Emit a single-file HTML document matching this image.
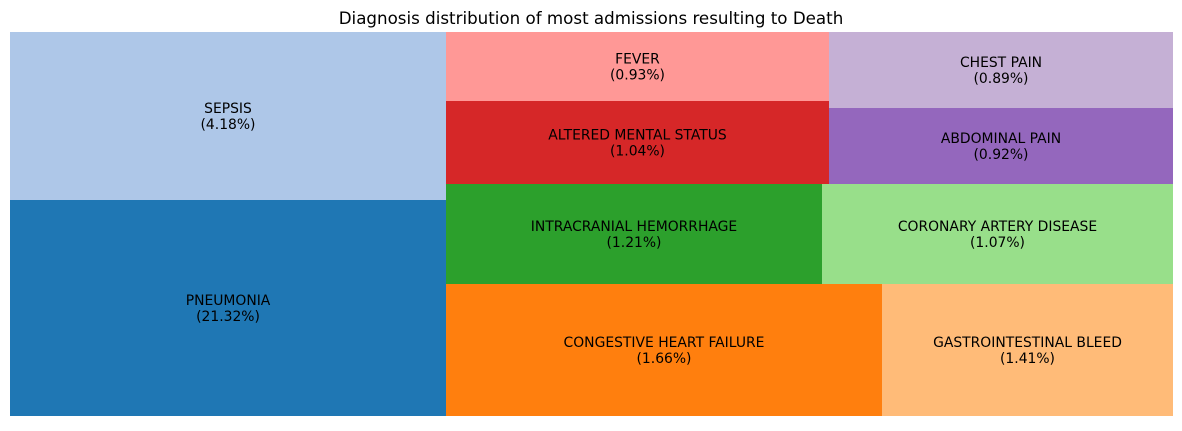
<!DOCTYPE html>
<html><head><meta charset="utf-8"><style>
body{margin:0;background:#fff;width:1182px;height:427px;overflow:hidden;font-family:"DejaVu Sans","Liberation Sans",sans-serif}
</style></head><body>
<svg id="chart" width="1182" height="427">
<text x="591" y="24" text-anchor="middle" font-size="16.7" fill="#000">Diagnosis distribution of most admissions resulting to Death</text>
<g id="cells"></g>
</svg>
<script>
const labels = ["PNEUMONIA","SEPSIS","CONGESTIVE HEART FAILURE","GASTROINTESTINAL BLEED","INTRACRANIAL HEMORRHAGE","CORONARY ARTERY DISEASE","ALTERED MENTAL STATUS","FEVER","ABDOMINAL PAIN","CHEST PAIN"];
const percents = ["21.32%","4.18%","1.66%","1.41%","1.21%","1.07%","1.04%","0.93%","0.92%","0.89%"];
const sizes = [94176,73248,57552,38412,37600,35100,31789,26427,26144,26144];
const colors = ["#1f77b4","#aec7e8","#ff7f0e","#ffbb78","#2ca02c","#98df8a","#d62728","#ff9896","#9467bd","#c5b0d5"];
const groups = [[[0,1],'col'],[[2,3],'row'],[[4,5],'row'],[[6,7],'col'],[[8,9],'col']];
const X0=10, Y0=32, W=1163, H=384;
const total = sizes.reduce((a,b)=>a+b,0);
const scale = (W*H)/total;
let rx=X0, ry=Y0, rw=W, rh=H;
const g=document.getElementById('cells');
const NS="http://www.w3.org/2000/svg";
const rects=[];
groups.forEach(([idx,orient],gi)=>{
  const area = idx.reduce((s,i)=>s+sizes[i]*scale,0);
  if(orient==='col'){
    const w = gi===groups.length-1 ? rw : area/rh;
    let yb = ry+rh;
    idx.forEach(i=>{const h=sizes[i]*scale/w; rects[i]=[rx,yb-h,w,h]; yb-=h;});
    rx+=w; rw-=w;
  } else {
    const h = area/rw;
    let xl = rx;
    idx.forEach(i=>{const w=sizes[i]*scale/h; rects[i]=[xl,ry+rh-h,w,h]; xl+=w;});
    rh-=h;
  }
});
rects.forEach((r,i)=>{
  const rect=document.createElementNS(NS,'rect');
  rect.setAttribute('x',r[0]);rect.setAttribute('y',r[1]);
  rect.setAttribute('width',r[2]);rect.setAttribute('height',r[3]);
  rect.setAttribute('fill',colors[i]);
  
  
  g.appendChild(rect);
  const cx=r[0]+r[2]/2, cy=r[1]+r[3]/2;
  const t=document.createElementNS(NS,'text');
  t.setAttribute('x',cx);t.setAttribute('y',cy-3);
  t.setAttribute('text-anchor','middle');t.setAttribute('font-size','13.9');
  t.textContent=labels[i];
  
  
  g.appendChild(t);
  const t2=document.createElementNS(NS,'text');
  t2.setAttribute('x',cx);t2.setAttribute('y',cy+13);
  t2.setAttribute('text-anchor','middle');t2.setAttribute('font-size','13.9');
  t2.textContent='('+percents[i]+')';
  
  
  g.appendChild(t2);
});
</script>
</body></html>
